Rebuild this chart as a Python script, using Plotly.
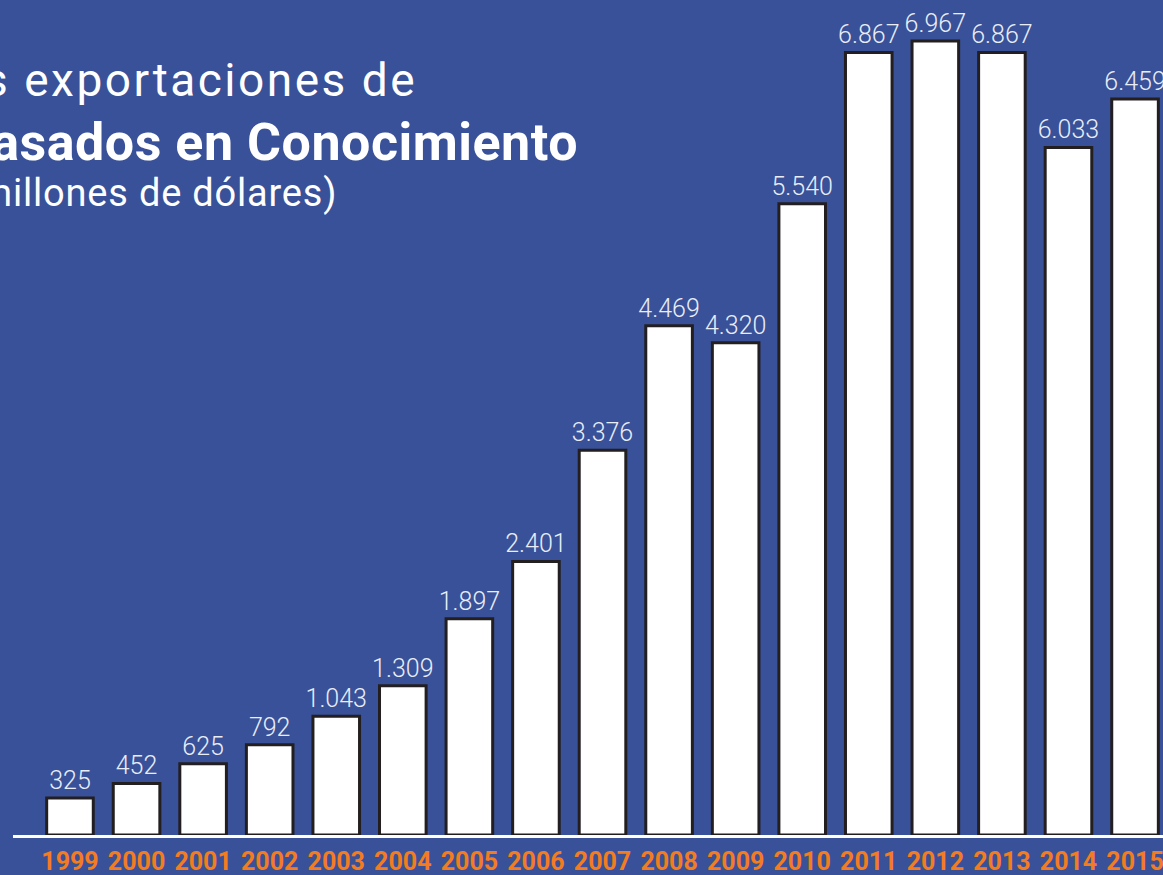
import plotly.graph_objects as go

years = ["1999", "2000", "2001", "2002", "2003", "2004", "2005", "2006", "2007",
         "2008", "2009", "2010", "2011", "2012", "2013", "2014", "2015"]
values = [325, 452, 625, 792, 1043, 1309, 1897, 2401, 3376,
          4469, 4320, 5540, 6867, 6967, 6867, 6033, 6459]

title_l1 = "Evolución de las exportaciones de"
title_l2 = "Servicios Basados en Conocimiento"
title_l3 = "(millones de dólares)"

BG = "#385198"
W, H = 1163, 875
ML, MR, MT, MB = 13, 0, 0, 40

fig = go.Figure()
fig.add_trace(go.Bar(
    x=years, y=values,
    marker=dict(color="white", line=dict(color="#231f20", width=3)),
    width=0.7,
    texttemplate="%{y:,}",
    textposition="outside",
    constraintext="none",
    textfont=dict(family="Roboto", size=25, color="#e9edf6", weight=300),
    cliponaxis=False,
    hoverinfo="skip",
))

def px_to_paper(px):
    return (px - ML) / (W - ML - MR)

PH = H - MT - MB
annots = [
    dict(text=title_l1, x=px_to_paper(419), y=80, size=46, weight=400, ls=2.5),
    dict(text=title_l2, x=px_to_paper(580), y=143, size=52, weight=700, ls=0.5),
    dict(text=title_l3, x=px_to_paper(339), y=193, size=38, weight=400, ls=0.8),
]
for a in annots:
    fig.add_annotation(
        text='<span style="letter-spacing:%spx">%s</span>' % (a["ls"], a["text"]),
        xref="paper", yref="paper",
        x=a["x"], y=1 - (a["y"] - MT) / PH,
        xanchor="right", yanchor="middle", showarrow=False,
        font=dict(family="Roboto", size=a["size"], color="white", weight=a["weight"]),
    )

fig.update_layout(
    width=W, height=H,
    margin=dict(l=ML, r=MR, t=MT, b=MB, autoexpand=False),
    paper_bgcolor=BG, plot_bgcolor=BG,
    separators=",.",
    showlegend=False,
    xaxis=dict(
        type="category", range=[-0.856, 16.42],
        automargin=False,
        showline=True, linecolor="white", linewidth=3,
        showgrid=False, zeroline=False, ticks="",
        ticklabelstandoff=2,
        tickfont=dict(family="Roboto", size=25, color="#f47c20", weight=700),
    ),
    yaxis=dict(range=[0, 7327], visible=False, showgrid=False, zeroline=False,
               automargin=False),
)

fig.write_html("out.html", config={"displayModeBar": False},
               post_script="document.body.style.margin='0';document.body.style.overflow='hidden';")
